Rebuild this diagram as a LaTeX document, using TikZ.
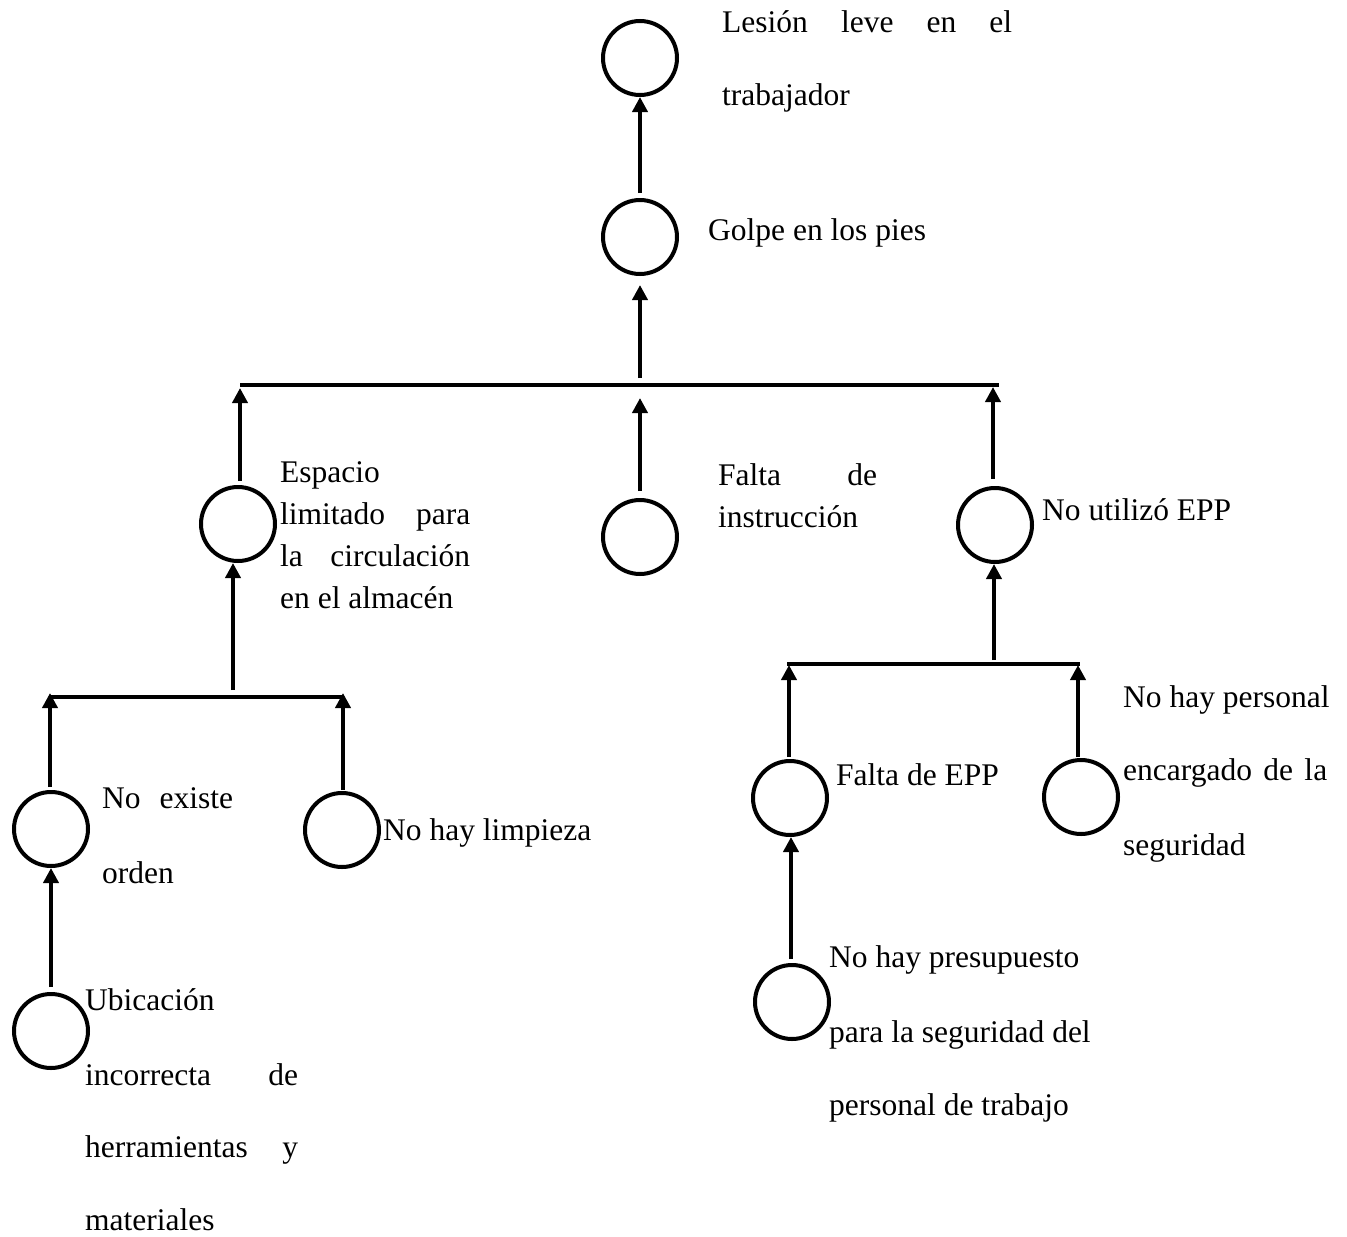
\documentclass[tikz,border=0pt]{standalone}
\usepackage{fontspec}
\setmainfont{Liberation Serif}
\usetikzlibrary{arrows.meta}
\begin{document}
\begin{tikzpicture}[x=1pt,y=-1pt,
  cnode/.style={draw,line width=4pt,circle,minimum size=74pt,inner sep=0pt},
  arr/.style={line width=4pt,-{Triangle[length=15pt,width=15pt]}},
  barline/.style={line width=4pt},
  lbl/.style={anchor=base west,inner sep=0pt,font=\fontsize{31.5}{38}\selectfont}]
\useasboundingbox (0,0) rectangle (1347,1237);
\newcommand{\jl}[2]{\makebox[#1pt][s]{#2}}
% circles
\node[cnode] (c1) at (640,58) {};
\node[cnode] (c2) at (640,237) {};
\node[cnode] (esp) at (238,524) {};
\node[cnode] (fal) at (640,537) {};
\node[cnode] (nou) at (995,525) {};
\node[cnode] (noe) at (51,829) {};
\node[cnode] (nol) at (342,830) {};
\node[cnode] (ubi) at (51,1031) {};
\node[cnode] (fepp) at (790,798) {};
\node[cnode] (nop) at (1081,797) {};
\node[cnode] (pre) at (792,1002) {};
% bar coordinates
\coordinate (b1L) at (240,385);
\coordinate (b1R) at (999,385);
\coordinate (b1M) at (640,378);
\coordinate (b1a) at (640,285);
\coordinate (b1f) at (640,398);
\coordinate (b1e) at (240,388);
\coordinate (b1n) at (993,387);
\coordinate (b2L) at (50,697);
\coordinate (b2R) at (343,697);
\coordinate (b2M) at (233,690);
\coordinate (b2a) at (50,693);
\coordinate (b2b) at (343,693);
\coordinate (b3L) at (787,664);
\coordinate (b3R) at (1080,664);
\coordinate (b3M) at (994,660);
\coordinate (b3a) at (789,665);
\coordinate (b3b) at (1078,665);
% bars
\draw[barline] (b1L) -- (b1R);
\draw[barline] (b2L) -- (b2R);
\draw[barline] (b3L) -- (b3R);
% arrows
\draw[arr] ([yshift=5pt]c2.north) -- (c1.south);
\draw[arr] (b1M) -- (b1a);
\draw[arr] ([yshift=7pt]fal.north) -- (b1f);
\draw[arr] ([xshift=2pt,yshift=4pt]esp.north) -- (b1e);
\draw[arr] ([xshift=-2pt,yshift=7pt]nou.north) -- (b1n);
\draw[arr] (b2M) -- ([xshift=-5pt]esp.south);
\draw[arr] ([xshift=-1pt,yshift=3pt]noe.north) -- (b2a);
\draw[arr] ([xshift=1pt,yshift=1pt]nol.north) -- (b2b);
\draw[arr] ([yshift=5pt]ubi.north) -- (noe.south);
\draw[arr] (b3M) -- ([xshift=-1pt]nou.south);
\draw[arr] ([xshift=-1pt,yshift=2pt]fepp.north) -- (b3a);
\draw[arr] ([xshift=-3pt,yshift=1pt]nop.north) -- (b3b);
\draw[arr] ([xshift=-1pt,yshift=4pt]pre.north) -- ([xshift=1pt]fepp.south);
% labels
\node[lbl] (t1a) at (722,32) {\jl{290}{Lesión leve en el}};
\node[lbl] (t1b) at (722,105) {trabajador};
\node[lbl] (t2) at (708,240) {Golpe en los pies};
\node[lbl] (t3a) at (280,482) {Espacio};
\node[lbl] (t3b) at (280,524) {\jl{190}{limitado para}};
\node[lbl] (t3c) at (280,566) {\jl{190}{la circulación}};
\node[lbl] (t3d) at (280,608) {en el almacén};
\node[lbl] (t4a) at (718,485) {\jl{159}{Falta de}};
\node[lbl] (t4b) at (718,527) {instrucción};
\node[lbl] (t5) at (1042,520) {No utilizó EPP};
\node[lbl] (t6a) at (102,808) {\jl{131}{No existe}};
\node[lbl] (t6b) at (102,883) {orden};
\node[lbl] (t7) at (383,840) {No hay limpieza};
\node[lbl] (t8a) at (85,1010) {Ubicación};
\node[lbl] (t8b) at (85,1085) {\jl{213}{incorrecta de}};
\node[lbl] (t8c) at (85,1157) {\jl{213}{herramientas y}};
\node[lbl] (t8d) at (85,1230) {materiales};
\node[lbl] (t9) at (836,785) {Falta de EPP};
\node[lbl] (t10a) at (1123,707) {No hay personal};
\node[lbl] (t10b) at (1123,780) {\jl{204}{encargado de la}};
\node[lbl] (t10c) at (1123,855) {seguridad};
\node[lbl] (t11a) at (829,967) {No hay presupuesto};
\node[lbl] (t11b) at (829,1042) {para la seguridad del};
\node[lbl] (t11c) at (829,1115) {personal de trabajo};
\end{tikzpicture}
\end{document}
